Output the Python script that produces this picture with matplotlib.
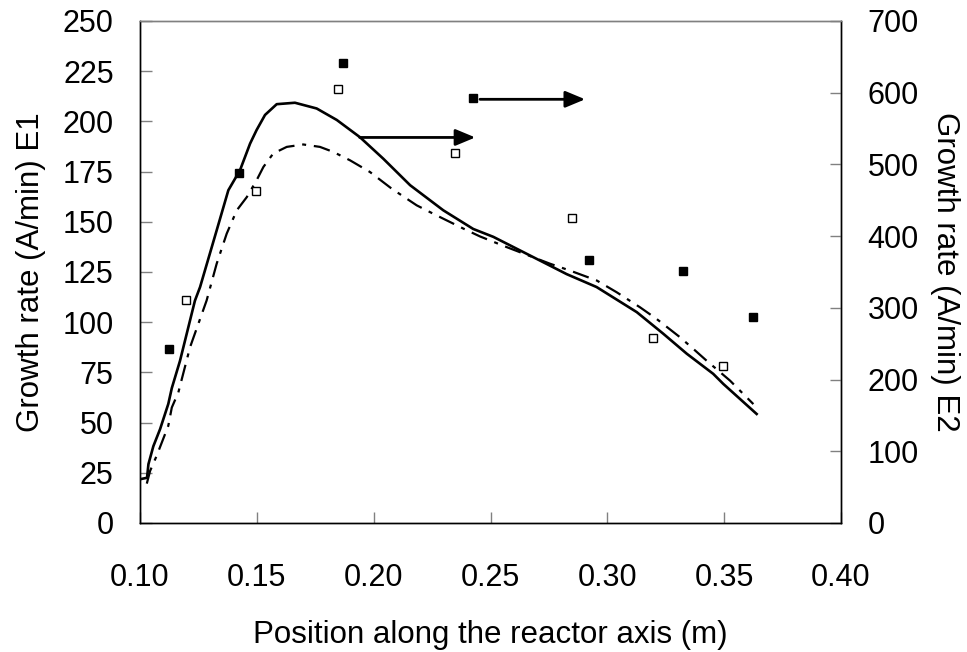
import matplotlib

matplotlib.use("Agg")
import matplotlib.pyplot as plt

plt.rcParams["font.family"] = ["Liberation Sans", "DejaVu Sans"]

# E1 (left axis): dash-dot model curve + open squares
e1_x = [0.1029, 0.1043, 0.1071, 0.1121, 0.1136, 0.1164, 0.1214, 0.1285, 0.1328,
        0.1371, 0.1414, 0.1457, 0.1499, 0.1528, 0.1570, 0.1628, 0.1699, 0.1770,
        0.1827, 0.1899, 0.1984, 0.2077, 0.2184, 0.2255, 0.2384, 0.2455, 0.2569,
        0.2755, 0.2840, 0.2954, 0.3040, 0.3140, 0.3211, 0.3311, 0.3368, 0.3425,
        0.3525, 0.3625]
e1_y = [19.6, 25.9, 33.4, 48.4, 57.5, 65.0, 87.5, 110.8, 129.1,
        144.1, 155.7, 162.3, 170.7, 177.3, 184.0, 187.3, 188.5, 187.3,
        184.8, 180.6, 174.8, 166.5, 158.2, 154.0, 146.6, 142.7, 137.4,
        129.1, 125.7, 120.8, 114.9, 107.4, 101.6, 92.5, 86.7, 80.8,
        70.9, 59.2]
e1_meas_x = [0.1198, 0.1497, 0.1847, 0.2348, 0.2849, 0.3197, 0.3496]
e1_meas_y = [110.8, 165.3, 216.2, 184.1, 152.1, 92.0, 78.0]

# E2 (right axis): solid model curve + filled squares
e2_x = [0.1000, 0.1030, 0.1036, 0.1057, 0.1086, 0.1121, 0.1136, 0.1171, 0.1235,
        0.1257, 0.1328, 0.1378, 0.1428, 0.1471, 0.1499, 0.1535, 0.1585, 0.1663,
        0.1756, 0.1842, 0.1941, 0.2041, 0.2156, 0.2298, 0.2426, 0.2512, 0.2669,
        0.2826, 0.2954, 0.3126, 0.3239, 0.3340, 0.3453, 0.3496, 0.3639]
e2_y = [61, 63, 82, 107, 131, 166, 188, 226, 310,
        329, 408, 464, 492, 529, 548, 569, 584, 586,
        578, 562, 538, 508, 471, 436, 410, 399, 373,
        347, 329, 294, 264, 236, 208, 194, 152]
e2_meas_x = [0.1124, 0.1424, 0.1870, 0.2423, 0.2923, 0.3325, 0.3625]
e2_meas_y = [242, 488, 641, 592, 367, 351, 287]

# arrows pointing to the E2 axis: (x_start, x_end, y on E1 scale)
arrows = [(0.194, 0.2435, 192.0), (0.2455, 0.2905, 211.0)]

fig = plt.figure(figsize=(9.67, 6.52), dpi=100)
ax = fig.add_axes([0.1448, 0.1979, 0.7249, 0.7699])
ax2 = ax.twinx()

ax.plot(e1_x, e1_y, color="black", linewidth=1.6,
        linestyle=(0, (7.5, 3.5, 1.8, 3.5)))
ax.plot(e1_meas_x, e1_meas_y, "s", markersize=5.8, markerfacecolor="white",
        markeredgecolor="black", markeredgewidth=1.0)
ax2.plot(e2_x, e2_y, color="black", linewidth=1.9)
ax2.plot(e2_meas_x, e2_meas_y, "s", markersize=5.8, color="black")

for x0, x1, y in arrows:
    ax.annotate("", xy=(x1, y), xytext=(x0, y),
                arrowprops=dict(arrowstyle="-|>,head_length=0.6,head_width=0.25",
                                color="black", lw=2, shrinkA=0, shrinkB=0,
                                mutation_scale=20))

ax.set_xlim(0.10, 0.40)
ax.set_ylim(0, 250)
ax2.set_ylim(0, 700)
ax.set_xticks([0.10, 0.15, 0.20, 0.25, 0.30, 0.35, 0.40])
ax.set_xticklabels(["0.10", "0.15", "0.20", "0.25", "0.30", "0.35", "0.40"])
ax.set_yticks(range(0, 251, 25))
ax2.set_yticks(range(0, 701, 100))

fs = 22
ax.tick_params(axis="y", direction="in", length=8.4, width=1, color="#808080",
               labelsize=fs, pad=19)
ax.tick_params(axis="x", direction="in", length=8, width=1, color="#808080",
               labelsize=fs, pad=28.5)
ax2.tick_params(axis="y", direction="in", length=8, width=1, color="#808080",
                labelsize=fs, pad=19)

for a in (ax, ax2):
    for side in ("left", "bottom", "right"):
        a.spines[side].set_color("black")
        a.spines[side].set_linewidth(1.0)
    a.spines["top"].set_color("#808080")
    a.spines["top"].set_linewidth(1.0)

lfs = 22.5
ax.set_xlabel("Position along the reactor axis (m)", fontsize=lfs, labelpad=20)
ax.set_ylabel("Growth rate (A/min) E1", fontsize=lfs, labelpad=12)
ax2.set_ylabel("Growth rate (A/min) E2", fontsize=lfs, rotation=270,
               va="bottom", labelpad=8)

fig.savefig("out.png", dpi=100, facecolor="white")
plt.close(fig)
